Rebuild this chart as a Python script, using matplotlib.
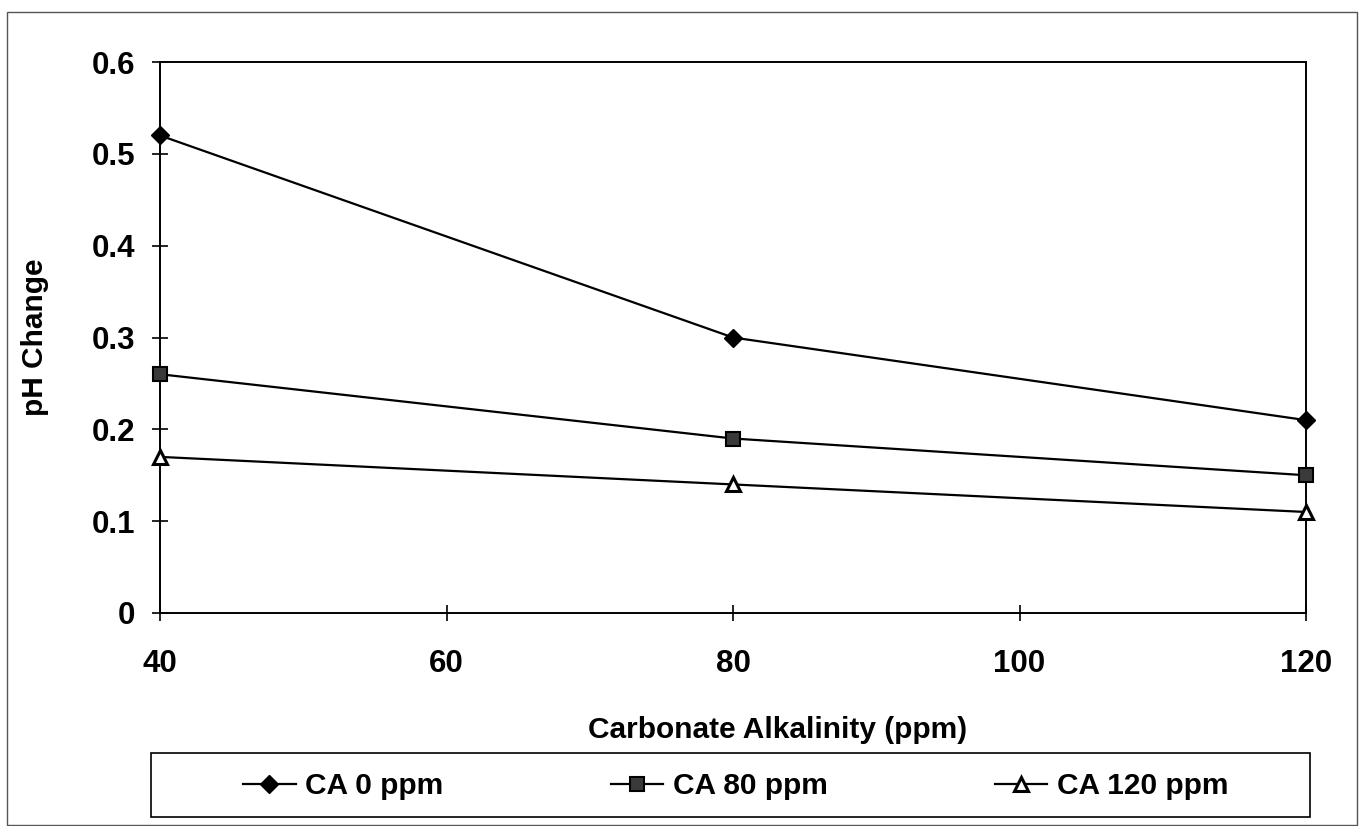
import matplotlib.pyplot as plt
from matplotlib.patches import Rectangle

plt.rcParams['font.family'] = ['Liberation Sans', 'DejaVu Sans']
plt.rcParams['font.weight'] = 'bold'

# Data
alkalinity = [40, 80, 120]
ca_0 = [0.52, 0.30, 0.21]
ca_80 = [0.26, 0.19, 0.15]
ca_120 = [0.17, 0.14, 0.11]
series_labels = ['CA 0 ppm', 'CA 80 ppm', 'CA 120 ppm']
x_ticks = [40, 60, 80, 100, 120]
y_ticks = [0, 0.1, 0.2, 0.3, 0.4, 0.5, 0.6]

W, H = 1359, 826
fig = plt.figure(figsize=(W / 100, H / 100), dpi=100)
ax = fig.add_axes([160 / W, 1 - 613 / H, (1306 - 160) / W, (613 - 62) / H])

ax.plot(alkalinity, ca_0, color='black', lw=1.6, marker='D', ms=9,
        mfc='black', mec='black', label=series_labels[0], clip_on=False, zorder=3)
ax.plot(alkalinity, ca_80, color='black', lw=1.6, marker='s', ms=10,
        mfc='#3a3a3a', mec='black', mew=1.5, label=series_labels[1], clip_on=False, zorder=3)
ax.plot(alkalinity, ca_120, color='black', lw=1.6, marker='^', ms=10,
        mfc='white', mec='black', mew=2.2, label=series_labels[2], clip_on=False, zorder=3)

ax.set_xlim(40, 120)
ax.set_ylim(0, 0.6)
ax.set_xticks(x_ticks)
ax.set_yticks(y_ticks)
ax.set_yticklabels(['0', '0.1', '0.2', '0.3', '0.4', '0.5', '0.6'])
for s in ax.spines.values():
    s.set_linewidth(1.4)
ax.tick_params(axis='both', direction='inout', length=12, width=1.2, labelsize=22.5)
ax.tick_params(axis='x', pad=20)
ax.tick_params(axis='y', pad=12)

fig.text(35 / W, 1 - 337 / H, 'pH Change', rotation=90, ha='center', va='center',
         fontsize=21.5, fontweight='bold')
fig.text(778 / W, 1 - 730 / H, 'Carbonate Alkalinity (ppm)', ha='center', va='center',
         fontsize=21.5, fontweight='bold')

# legend box
fig.patches.append(Rectangle((151 / W, 1 - 817 / H), (1310 - 151) / W, 64 / H,
                             transform=fig.transFigure, fill=False, ec='black', lw=1.2))
handles, labels = ax.get_legend_handles_labels()
fig.legend(handles, labels, loc='center', bbox_to_anchor=(736 / W, 1 - 786 / H),
           ncol=3, frameon=False, fontsize=21.5, handlelength=1.75,
           handletextpad=0.33, columnspacing=5.6)

# outer border
fig.patches.append(Rectangle((7 / W, 1 - 825 / H), (1357 - 7) / W, (825 - 12) / H,
                             transform=fig.transFigure, fill=False, ec='#555555', lw=1.0))

fig.savefig('out.png', dpi=100, facecolor='white')
